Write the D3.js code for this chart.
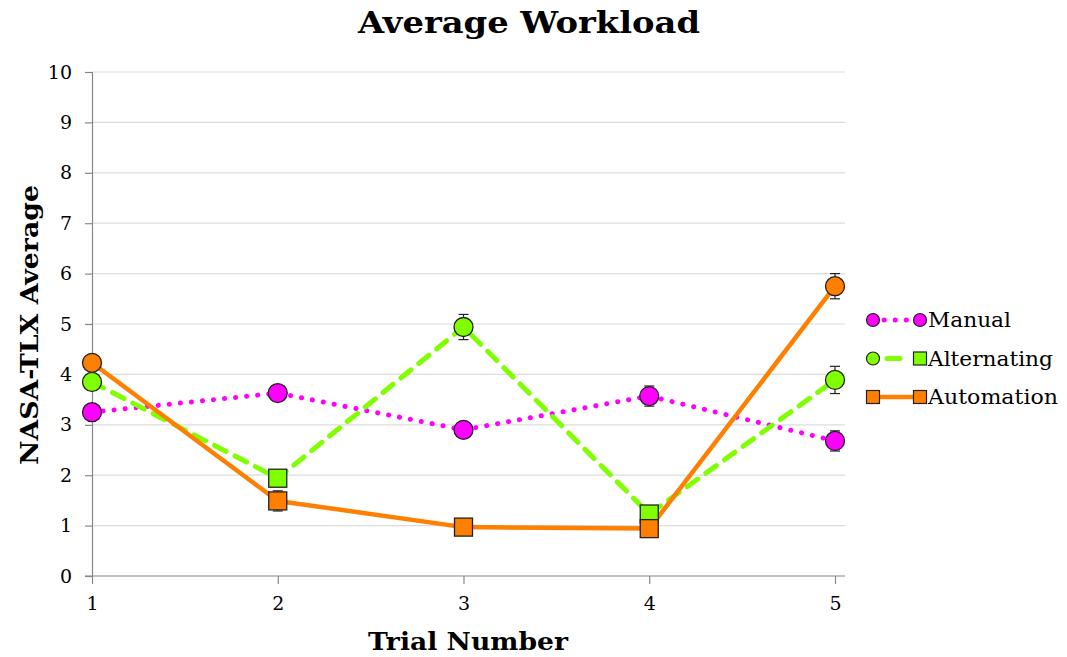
<!DOCTYPE html>
<html><head><meta charset="utf-8">
<script src="https://cdn.jsdelivr.net/npm/d3@7"></script>
<style>body{margin:0;background:#fff}</style></head>
<body><svg id="c" width="1067" height="657"></svg>
<script>
const trials = [1, 2, 3, 4, 5];
const yTicks = [0,1,2,3,4,5,6,7,8,9,10];
const manual = [3.25, 3.63, 2.90, 3.57, 2.68];
const manualErr = [0.12, 0.1, 0.12, 0.2, 0.2];
const manualShape = ["circle","circle","circle","circle","circle"];
const alternating = [3.85, 1.94, 4.94, 1.23, 3.89];
const alternatingErr = [0.1, 0.1, 0.25, 0.1, 0.27];
const alternatingShape = ["circle","square","circle","square","circle"];
const automation = [4.23, 1.49, 0.97, 0.94, 5.75];
const automationErr = [0.12, 0.2, 0.08, 0.08, 0.25];
const automationShape = ["circle","square","square","square","circle"];
const seriesNames = ["Manual","Alternating","Automation"];

const series = [
  {name: seriesNames[0], vals: manual, err: manualErr, shape: manualShape, color: "#ff00ff", dash: "0.1 11", cap: "round", width: 5, legend: ["circle","circle"], tl: 83},
  {name: seriesNames[1], vals: alternating, err: alternatingErr, shape: alternatingShape, color: "#80ff00", dash: "13 10", cap: "round", width: 5, legend: ["circle","square"], tl: 125},
  {name: seriesNames[2], vals: automation, err: automationErr, shape: automationShape, color: "#ff7f00", dash: null, cap: "butt", width: 4.5, legend: ["square","square"], tl: 130}
];
const font = "'DejaVu Serif', 'Liberation Serif', serif";
const svg = d3.select("#c");
const x = d3.scaleLinear().domain([1,5]).range([92, 835]);
const y = d3.scaleLinear().domain([0,10]).range([576, 72]);
const xRight = 845;

svg.append("g").selectAll("line").data(yTicks.slice(1)).join("line")
  .attr("x1", 92).attr("x2", xRight).attr("y1", d=>y(d)).attr("y2", d=>y(d))
  .attr("stroke", "#dcdcdc").attr("stroke-width", 1.2);

const gy = svg.append("g").attr("transform","translate(92,0)")
  .call(d3.axisLeft(y).tickValues(yTicks).tickSize(7).tickPadding(13).tickFormat(d3.format("d")));
gy.select(".domain").attr("stroke","#888").attr("stroke-width",1.2);
gy.selectAll(".tick line").attr("stroke","#888").attr("stroke-width",1.2);
gy.selectAll("text").attr("font-family", font).attr("font-size", 19).attr("fill","#000");

const gx = svg.append("g").attr("transform","translate(0,576)")
  .call(d3.axisBottom(x).tickValues(trials).tickSize(8).tickPadding(13).tickFormat(d3.format("d")));
gx.select(".domain").attr("stroke","#888").attr("stroke-width",1.2).attr("d", `M85,0H${xRight}`);
gx.selectAll(".tick line").attr("stroke","#888").attr("stroke-width",1.2);
gx.selectAll("text").attr("font-family", font).attr("font-size", 19).attr("fill","#000");

svg.append("text").attr("x", 529).attr("y", 33).attr("text-anchor","middle")
  .attr("font-family", font).attr("font-weight","bold").attr("font-size", 29)
  .attr("textLength", 342).attr("lengthAdjust","spacingAndGlyphs").text("Average Workload");
svg.append("text").attr("x", 468).attr("y", 650).attr("text-anchor","middle")
  .attr("font-family", font).attr("font-weight","bold").attr("font-size", 24)
  .attr("textLength", 200).attr("lengthAdjust","spacingAndGlyphs").text("Trial Number");
svg.append("text").attr("transform","translate(38,325) rotate(-90)").attr("text-anchor","middle")
  .attr("font-family", font).attr("font-weight","bold").attr("font-size", 24)
  .attr("textLength", 280).attr("lengthAdjust","spacingAndGlyphs").text("NASA-TLX Average");

function marker(g, shape, cx, cy, color) {
  if (shape === "circle") {
    g.append("circle").attr("cx", cx).attr("cy", cy).attr("r", 9.5)
      .attr("fill", color).attr("stroke", "#222").attr("stroke-width", 1.3);
  } else {
    g.append("rect").attr("x", cx-9).attr("y", cy-9).attr("width", 18).attr("height", 18)
      .attr("fill", color).attr("stroke", "#222").attr("stroke-width", 1.3);
  }
}

const line = d3.line().x((d,i)=>x(trials[i])).y(d=>y(d));
series.forEach(s => {
  const p = svg.append("path").datum(s.vals).attr("d", line).attr("fill","none")
    .attr("stroke", s.color).attr("stroke-width", s.width).attr("stroke-linecap", s.cap).attr("stroke-linejoin","round");
  if (s.dash) p.attr("stroke-dasharray", s.dash);
});
series.forEach(s => {
  const g = svg.append("g");
  s.vals.forEach((v,i) => {
    const cx = x(trials[i]);
    g.append("line").attr("x1",cx).attr("x2",cx).attr("y1",y(v+s.err[i])).attr("y2",y(v-s.err[i])).attr("stroke","#222").attr("stroke-width",1.2);
    [v+s.err[i], v-s.err[i]].forEach(e => g.append("line").attr("x1",cx-5).attr("x2",cx+5).attr("y1",y(e)).attr("y2",y(e)).attr("stroke","#222").attr("stroke-width",1.2));
  });
  s.vals.forEach((v,i) => marker(g, s.shape[i], x(trials[i]), y(v), s.color));
});

series.forEach((s,i) => {
  const ly = 320 + i*38.5;
  const g = svg.append("g");
  const l = g.append("line").attr("x1", 873).attr("x2", 919).attr("y1", ly).attr("y2", ly)
    .attr("stroke", s.color).attr("stroke-width", s.width).attr("stroke-linecap", s.cap);
  if (s.dash) l.attr("stroke-dasharray", s.dash === "13 10" ? "0 14 13 30" : "0.1 11");
  const mk = (shape, cx) => {
    if (shape === "circle") g.append("circle").attr("cx", cx).attr("cy", ly).attr("r", 6.5).attr("fill", s.color).attr("stroke","#222").attr("stroke-width",1.2);
    else g.append("rect").attr("x", cx-6.5).attr("y", ly-6.5).attr("width", 13).attr("height", 13).attr("fill", s.color).attr("stroke","#222").attr("stroke-width",1.2);
  };
  mk(s.legend[0], 873); mk(s.legend[1], 920);
  g.append("text").attr("x", 928).attr("y", ly+7).attr("font-family", font).attr("font-size", 20)
    .attr("textLength", s.tl).attr("lengthAdjust","spacingAndGlyphs").text(s.name);
});
</script></body></html>
